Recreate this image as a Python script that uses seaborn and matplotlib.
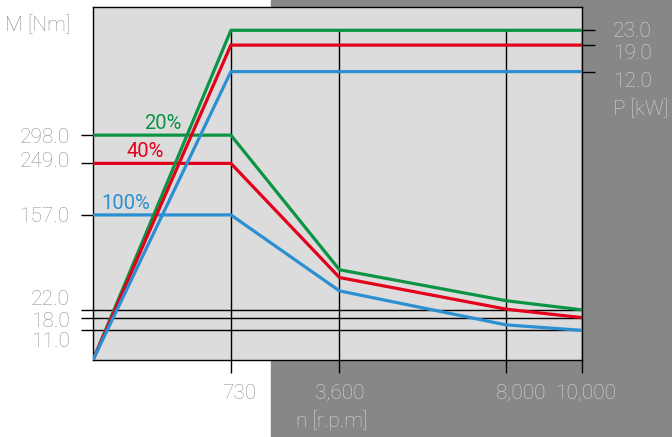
import numpy as np
import pandas as pd
import matplotlib
matplotlib.use("Agg")
import matplotlib.pyplot as plt
import matplotlib.transforms as mtransforms
from matplotlib.patches import Rectangle
import seaborn as sns

# dados (leitura do gráfico)
speed = [0, 730, 3600, 8000, 10000]
torque_20 = [298, 298, 79, 35, 22]
torque_40 = [249, 249, 68, 23, 18]
torque_100 = [157, 157, 49, 14, 11]

power_speed = [0, 730, 10000]
power_20 = [0, 23, 23]
power_40 = [0, 19, 19]
power_100 = [0, 12, 12]

loads = ["20%", "40%", "100%"]
speed_ticks = [730, 3600, 8000, 10000]
speed_labels = ["730", "3,600", "8,000", "10,000"]
torque_ticks = [11, 18, 22, 157, 249, 298]
torque_grid = [11, 18, 22]
power_ticks = [12, 19, 23]

# escalas esquemáticas (eixos não lineares do diagrama)
x_knots = [0, 730, 3600, 8000, 10000]
x_frac = [0, 0.282, 0.504, 0.845, 1.0]
m_knots = [0, 11, 18, 22, 157, 249, 298, 520]
m_frac = [0, 0.084, 0.120, 0.142, 0.411, 0.557, 0.637, 1.0]
p_knots = [0, 12, 19, 23, 30]
p_frac = [0, 0.817, 0.892, 0.934, 1.0]


def piecewise(knots, frac):
    return (lambda v: np.interp(v, knots, frac),
            lambda v: np.interp(v, frac, knots))


colors = {"20%": "#0b9444", "40%": "#e2001a", "100%": "#2b8fd2"}
gray_txt = "#929292"
light_txt = "#d6d6d6"

sns.set_theme(style="ticks")
plt.rcParams["font.family"] = ["Roboto", "DejaVu Sans"]
plt.rcParams["font.weight"] = "light"

fig = plt.figure(figsize=(6.72, 4.37), dpi=100, facecolor="white")
fig.patches.append(Rectangle((271 / 672, 0), 1 - 271 / 672, 1,
                             transform=fig.transFigure, color="#878787", zorder=-5))

ax = fig.add_axes([93 / 672, 77 / 437, 489 / 672, 353 / 437], facecolor="#dcdcdc")
ax.set_xscale("function", functions=piecewise(x_knots, x_frac))
ax.set_yscale("function", functions=piecewise(m_knots, m_frac))
ax.set_xlim(0, 10000)
ax.set_ylim(0, 520)

ax2 = ax.twinx()
ax2.set_yscale("function", functions=piecewise(p_knots, p_frac))
ax2.set_ylim(0, 30)

# linhas de referência
for v in torque_grid:
    ax.axhline(v, color="black", lw=1.0, zorder=1)
top_frac = np.interp(max(power_ticks), p_knots, p_frac)
ax.vlines(speed_ticks, 0, top_frac, transform=ax.get_xaxis_transform(),
          color="black", lw=1.0, zorder=1)

# torque
df_m = pd.DataFrame({
    "n": speed * 3,
    "M": torque_20 + torque_40 + torque_100,
    "load": [l for l in loads for _ in speed],
})
sns.lineplot(data=df_m, x="n", y="M", hue="load", palette=colors, ax=ax,
             legend=False, lw=2.3, zorder=3)

# potência
df_p = pd.DataFrame({
    "n": power_speed * 3,
    "P": power_20 + power_40 + power_100,
    "load": [l for l in loads for _ in power_speed],
})
sns.lineplot(data=df_p, x="n", y="P", hue="load", palette=colors, ax=ax2,
             legend=False, lw=2.3, zorder=3)

ax.set_xlabel("")
ax.set_ylabel("")
ax2.set_ylabel("")

# ticks
ax.set_xticks(speed_ticks, speed_labels)
ax.set_yticks(torque_ticks, [f"{v:.1f}" for v in torque_ticks])
ax2.set_yticks(power_ticks, [f"{v:.1f}" for v in power_ticks])
ax.minorticks_off()
ax2.minorticks_off()
ax.tick_params(axis="x", length=9.5, width=1, color="black", pad=8, labelsize=15)
ax.tick_params(axis="y", length=8.8, width=1, color="black", pad=8, labelsize=15,
               labelcolor=gray_txt)
ax2.tick_params(axis="y", length=9.2, width=1, color="black", pad=13, labelsize=15,
                labelcolor=light_txt)

for spine in ax.spines.values():
    spine.set_color("black")
    spine.set_linewidth(1.0)
for spine in ax2.spines.values():
    spine.set_visible(False)


def shift(label, dx, dy):
    label.set_transform(label.get_transform() + mtransforms.ScaledTranslation(
        dx / 100, -dy / 100, fig.dpi_scale_trans))


# deslocamentos dos rótulos (pixels)
x_shift = [8, 0, 15, 4]
for lab, dx in zip(ax.get_xticklabels(), x_shift):
    lab.set_color(gray_txt if lab.get_text() == "730" else light_txt)
    shift(lab, dx, 0)
y_shift = {11: 9, 18: 1.5, 22: -12, 157: 0, 249: -4, 298: 0}
for lab, v in zip(ax.get_yticklabels(), torque_ticks):
    shift(lab, 0, y_shift[v])
p_shift = {12: 7.5, 19: 6, 23: -0.5}
for lab, v in zip(ax2.get_yticklabels(), power_ticks):
    shift(lab, 0, p_shift[v])

# rótulos das curvas
label_x = {"20%": 367, "40%": 277, "100%": 173}
for load, tq in zip(loads, [torque_20, torque_40, torque_100]):
    ax.annotate(load, xy=(label_x[load], tq[0]), xytext=(0, 4.5),
                textcoords="offset points", ha="center", va="baseline",
                color=colors[load], fontsize=14.5, fontweight="normal")

# títulos dos eixos
fig.text(70 / 672, 1 - 25 / 437, "M [Nm]", ha="right", va="center",
         color=gray_txt, fontsize=15)
fig.text(613 / 672, 1 - 109 / 437, "P [kW]", ha="left", va="center",
         color=light_txt, fontsize=15)
fig.text(296 / 672, 1 - 421 / 437, "n [r.p.m]", ha="left", va="center",
         color=light_txt, fontsize=15)

fig.savefig("out.png", dpi=100)
